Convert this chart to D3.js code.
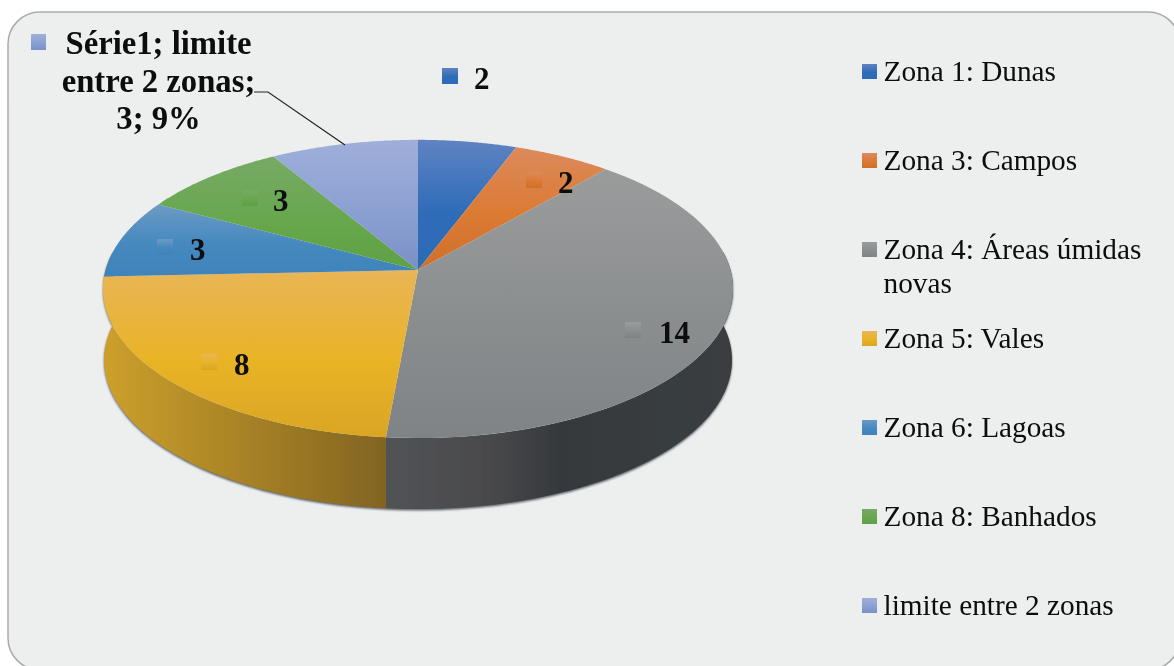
<!DOCTYPE html>
<html>
<head>
<meta charset="utf-8">
<script src="https://cdn.jsdelivr.net/npm/d3@7/dist/d3.min.js"></script>
<style>
    html, body { margin: 0; padding: 0; background: #fff; overflow: hidden; }
    text { font-family: "Liberation Serif", serif; fill: #0c0c0c; }
</style>
</head>
<body>
<svg id="chart" width="1174" height="666"></svg>
<script>
"use strict";

var zones = ["Zona 1: Dunas", "Zona 3: Campos", "Zona 4: Áreas úmidas novas", "Zona 5: Vales",
    "Zona 6: Lagoas", "Zona 8: Banhados", "limite entre 2 zonas"];
var counts = [2, 2, 14, 8, 3, 3, 3];
var calloutLines = ["Série1; limite", "entre 2 zonas;", "3; 9%"];
var legendLines = [["Zona 1: Dunas"], ["Zona 3: Campos"], ["Zona 4: Áreas úmidas", "novas"], ["Zona 5: Vales"],
    ["Zona 6: Lagoas"], ["Zona 8: Banhados"], ["limite entre 2 zonas"]];

// [light top, middle, bottom] of each slice
var topColors = [
    ["#5f83c2", "#2f6cb8", "#2b6cb8"],
    ["#dc8a5c", "#db7a33", "#cf6f2b"],
    ["#9a9c9c", "#8b8e8f", "#7f8386"],
    ["#e9b556", "#e9b326", "#daa524"],
    ["#6c9ac4", "#4589bf", "#3f83ba"],
    ["#76aa66", "#68a74e", "#5fa145"],
    ["#9fafd9", "#8ba0d2", "#7a90c6"]
];
// the side wall only shows the two big front slices, [left, right] colours
var wallSlices = [2, 3];
var wallColors = {
    2: ["#505356", "#3a3e41"],
    3: ["#cda02c", "#826420"]
};

var svg = d3.select("#chart");
var defs = svg.append("defs");

defs.append("filter").attr("id", "soft").attr("x", "-5%").attr("y", "-5%").attr("width", "110%").attr("height", "110%")
    .append("feGaussianBlur").attr("stdDeviation", 0.45);
defs.append("filter").attr("id", "rimShadow").attr("x", "-5%").attr("y", "-5%").attr("width", "110%").attr("height", "110%")
    .append("feGaussianBlur").attr("stdDeviation", 1.3);

topColors.forEach((c, i) => {
    var g = defs.append("linearGradient").attr("id", "top" + i).attr("x1", 0).attr("y1", 0).attr("x2", 0).attr("y2", 1);
    g.append("stop").attr("offset", "0%").attr("stop-color", c[0]);
    g.append("stop").attr("offset", "55%").attr("stop-color", c[1]);
    g.append("stop").attr("offset", "100%").attr("stop-color", c[2]);
});
wallSlices.forEach(i => {
    var c = wallColors[i];
    var g = defs.append("linearGradient").attr("id", "wall" + i).attr("x1", 0).attr("y1", 0).attr("x2", 1).attr("y2", 0);
    g.append("stop").attr("offset", "0%").attr("stop-color", c[0]);
    if(i === 2){
        g.append("stop").attr("offset", "27%").attr("stop-color", "#4b4b4d");
        g.append("stop").attr("offset", "50%").attr("stop-color", "#36393c");
    }
    g.append("stop").attr("offset", "100%").attr("stop-color", c[1]);
});

var root = svg.append("g").attr("filter", "url(#soft)");

// panel, its right and bottom corners run off the picture
root.append("rect").attr("x", 8).attr("y", 12).attr("width", 1172).attr("height", 658).attr("rx", 32)
    .attr("fill", "#edefee").attr("stroke", "#a9abaa").attr("stroke-width", 1.5);

// pie plane with perspective: front edge is nearer than the back edge
var persp = 0.127;
var project = (angle, plane) => {
    var u = Math.sin(angle), v = -Math.cos(angle);
    var w = 1 - persp * v;
    return [plane.cx + plane.rx * u / w, plane.cy + plane.ry * v / w];
};
var topPlane = {cx: 418, cy: 270, rx: 312.5, ry: 146.7};
var bottomPlane = {cx: 418, cy: 341, rx: 311.5, ry: 146.7};

var arcs = d3.pie().sort(null).value(d => d)(counts);
var line = d3.line();
var rimPoints = (a0, a1, plane) => d3.range(0, 61).map(k => project(a0 + (a1 - a0) * k / 60, plane));

// only this angle range of the wall faces the viewer
var wallFrom = Math.acos(persp);
var wallTo = 2 * Math.PI - wallFrom;

var wallPath = (a0, a1) => line(rimPoints(a0, a1, topPlane).concat(rimPoints(a1, a0, bottomPlane))) + "Z";

root.append("path").attr("d", wallPath(wallFrom, wallTo))
    .attr("transform", "translate(0,1.5)")
    .attr("fill", "#5a6068").attr("filter", "url(#rimShadow)");

// grey wall runs from the right silhouette, yellow one on to the left silhouette
root.selectAll("path.wall").data(wallSlices.map(i => arcs[i])).enter().append("path")
    .attr("class", "wall")
    .attr("d", d => d.index === 2 ? wallPath(wallFrom, d.endAngle) : wallPath(d.startAngle, wallTo))
    .attr("fill", d => "url(#wall" + d.index + ")");

root.selectAll("path.slice").data(arcs).enter().append("path")
    .attr("class", "slice")
    .attr("d", d => line([[topPlane.cx, topPlane.cy]].concat(rimPoints(d.startAngle, d.endAngle, topPlane))) + "Z")
    .attr("fill", d => "url(#top" + d.index + ")");

// data labels: key square plus bold value
var labelAnchors = [[442, 68], [526, 172], [625, 322], [201, 354], [157, 239], [242, 190]];
var labelGap = [32, 32, 34, 33, 33, 31];

var labels = root.selectAll("g.label").data(labelAnchors).enter().append("g").attr("class", "label")
    .attr("transform", d => "translate(" + d[0] + "," + d[1] + ")");
labels.append("rect").attr("width", 16).attr("height", 16)
    .attr("fill", (d, i) => "url(#top" + i + ")");
labels.append("text").attr("x", (d, i) => labelGap[i]).attr("y", 21)
    .attr("font-size", 31).attr("font-weight", "bold")
    .text((d, i) => counts[i]);

// callout of the last slice
root.append("rect").attr("x", 31).attr("y", 34).attr("width", 15).attr("height", 16).attr("fill", "url(#top6)");
root.selectAll("text.callout").data(calloutLines).enter().append("text")
    .attr("class", "callout")
    .attr("x", 158.5).attr("y", (d, i) => 54 + i * 37.5)
    .attr("text-anchor", "middle").attr("font-size", 32.7).attr("font-weight", "bold")
    .text(d => d);
root.append("path").attr("d", line([[254, 92], [268, 92], [345, 145]]))
    .attr("fill", "none").attr("stroke", "#222").attr("stroke-width", 1.2);

// legend
var legendY = d3.scaleLinear().domain([0, zones.length - 1]).range([81, 615]);
var legend = root.selectAll("g.legend").data(zones).enter().append("g").attr("class", "legend")
    .attr("transform", (d, i) => "translate(862," + legendY(i) + ")");
legend.append("rect").attr("y", -17).attr("width", 15).attr("height", 15)
    .attr("fill", (d, i) => "url(#top" + i + ")");
legend.each(function(d, i){
    d3.select(this).selectAll("text").data(legendLines[i]).enter().append("text")
        .attr("x", 21.5).attr("y", (t, k) => k * 34)
        .attr("font-size", 29.3)
        .text(t => t);
});
</script>
</body>
</html>
